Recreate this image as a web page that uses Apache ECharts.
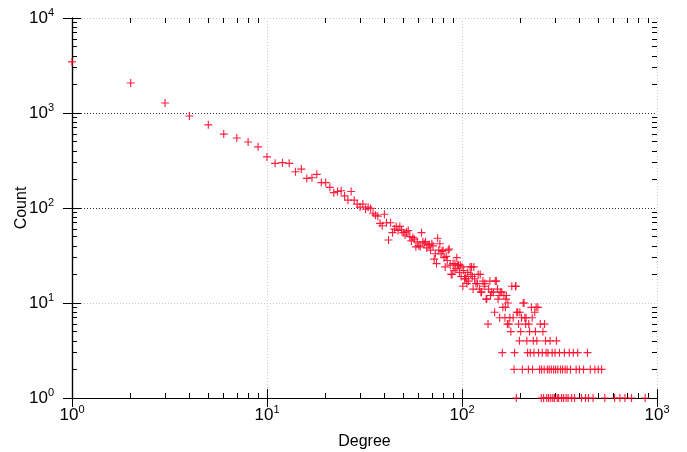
<!DOCTYPE html>
<html>
<head>
<meta charset="utf-8">
<script src="https://cdn.jsdelivr.net/npm/echarts@6/dist/echarts.min.js"></script>
<style>html,body{margin:0;padding:0;background:#fff}#c{width:687px;height:452px}</style>
</head>
<body>
<div id="c"></div>
<script>
// Degree values (x) and their counts (y)
const degrees = [1,2,3,4,5,6,7,8,9,10,11,12,13,14,15,16,17,18,19,20,21,22,23,24,25,26,27,28,29,30,
31,32,33,34,35,36,37,38,39,40,41,42,43,44,45,46,47,48,49,50,51,52,53,54,55,56,57,58,59,60,
61,62,63,64,65,66,67,68,69,70,71,72,73,74,75,76,77,78,79,80,81,82,83,84,85,86,87,88,89,90,
91,92,93,94,95,96,97,98,99,100,101,102,103,104,105,106,107,108,110,111,112,113,114,115,116,118,
120,121,123,124,125,126,128,130,131,133,134,136,137,139,140,142,145,147,148,150,152,153,155,156,
158,160,161,162,164,166,167,168,169,171,172,174,176,178,180,183,185,186,188,189,190,191,193,195,
197,198,200,202,204,206,208,210,212,213,215,217,219,220,222,224,227,229,230,232,234,236,238,240,
242,245,247,250,252,255,256,258,260,262,264,265,268,270,272,274,276,278,280,283,285,287,290,292,
295,298,300,302,305,308,310,313,316,320,324,328,332,335,338,342,346,350,355,360,365,372,378,385,
392,400,410,420,430,440,445,455,470,480,500,520,540,606,645,685,740,870];
const counts = [3450,2070,1275,930,750,600,545,495,440,345,295,300,295,241,257,205,208,226,185,185,165,145,149,152,134,121,149,121,110,102,
110,97,102,99,88,84,82,69,65,86,70,46,70,55,60,64,58,64,59,55,52,56,58,50,45,49,47,39,44,40,
39,55,44,42,44,38,41,41,36,42,40,29,33,26,48,36,42,33,35,36,30,24,31,28,36,37,25,20,20,26,
22,26,23,30,25,25,21,25,19,24,15,22,18,19,18,16,21,17,24,20,24,19,14,24,18,16,
16,20,14,20,13,13,17,15,16,11,11,6,14,17,12,13,13,8,17,17,14,11,12,7,
13,13,3,9,12,7,9,11,12,6,10,6,7,5,15,7,2,3,15,15,1,8,8,6,
4,8,5,7,2,10,10,7,6,7,4,3,2,6,5,3,9,7,2,4,3,8,5,9,
4,9,3,2,6,1,2,3,5,1,2,6,4,3,1,2,3,1,2,4,1,2,3,1,
2,1,3,2,4,1,2,1,3,2,1,2,1,3,2,1,2,1,3,2,1,3,1,2,
3,2,1,2,1,3,1,2,1,2,2,2,1,1,1,1,1,1];
const xTickValues = [1,10,100,1000];
const yTickValues = [1,10,100,1000,10000];

const points = degrees.map((d,i)=>[d,counts[i]]);

function minorList(decades){
  const out=[];
  for(let e=0;e<decades;e++){ for(let k=2;k<=9;k++){ out.push(e+Math.log10(k)); } }
  return out;
}
const FONT = '"Liberation Sans", Arial, sans-serif';
const rich = {
  b:{fontSize:17, fontFamily:FONT, color:'#000', lineHeight:22},
  s:{fontSize:11, fontFamily:FONT, color:'#000', verticalAlign:'top', lineHeight:12}
};
function powLabel(v){ const e=Math.round(Math.log10(v)); return '{b|10}{s|'+e+'}'; }
const lineBlack = {show:true, lineStyle:{color:'#000', width:1.2}};
function decoAxis(pos, max, values, len, showLine){
  return {
    type:'value', position:pos, min:0, max:max, gridIndex:0,
    axisLine: showLine ? lineBlack : {show:false},
    axisTick:{show:true, inside:true, length:len, customValues:values, lineStyle:{color:'#000', width:1}},
    axisLabel:{show:false}, splitLine:{show:false}
  };
}
const majX=[0,1,2,3], majY=[0,1,2,3,4];

const chart = echarts.init(document.getElementById('c'));
chart.setOption({
  animation:false,
  backgroundColor:'#fff',
  grid:{left:72, right:30, top:18, bottom:54, containLabel:false, outerBoundsMode:'none'},
  xAxis:[
    {type:'log', logBase:10, min:1, max:1000, position:'bottom',
     name:'Degree', nameLocation:'middle', nameGap:36, nameMoveOverlap:false,
     nameTextStyle:{fontSize:16, fontFamily:FONT, color:'#000'},
     axisLine:lineBlack,
     axisTick:{show:true, inside:true, length:9, lineStyle:{color:'#000'}},
     axisLabel:{formatter:powLabel, rich:rich, margin:6},
     splitLine:{show:true, lineStyle:{color:'#c8c8c8', type:[1,2], width:1}},
     minorTick:{show:false}},
    decoAxis('bottom',3,minorList(3),5,false),
    decoAxis('top',3,majX,9,true),
    decoAxis('top',3,minorList(3),5,false)
  ],
  yAxis:[
    {type:'log', logBase:10, min:1, max:10000, position:'left',
     name:'Count', nameLocation:'middle', nameGap:42, nameRotate:90, nameMoveOverlap:false,
     nameTextStyle:{fontSize:16, fontFamily:FONT, color:'#000'},
     axisLine:lineBlack,
     axisTick:{show:true, inside:true, length:9, lineStyle:{color:'#000'}},
     axisLabel:{formatter:powLabel, rich:rich, margin:18},
     splitLine:{show:true, lineStyle:{color:['#c8c8c8','#c8c8c8','#333','#333','#c8c8c8'], type:[1,2], width:1}}},
    decoAxis('left',4,minorList(4),5,false),
    decoAxis('right',4,majY,9,true),
    decoAxis('right',4,minorList(4),5,false)
  ],
  series:[{
    type:'scatter', xAxisIndex:0, yAxisIndex:0,
    data:points,
    symbol:'path://M3,0H4V3H7V4H4V7H3V4H0V3H3Z',
    symbolSize:8,
    itemStyle:{color:'#ff0a2a', opacity:0.9},
    clip:false
  }]
});
</script>
</body>
</html>
